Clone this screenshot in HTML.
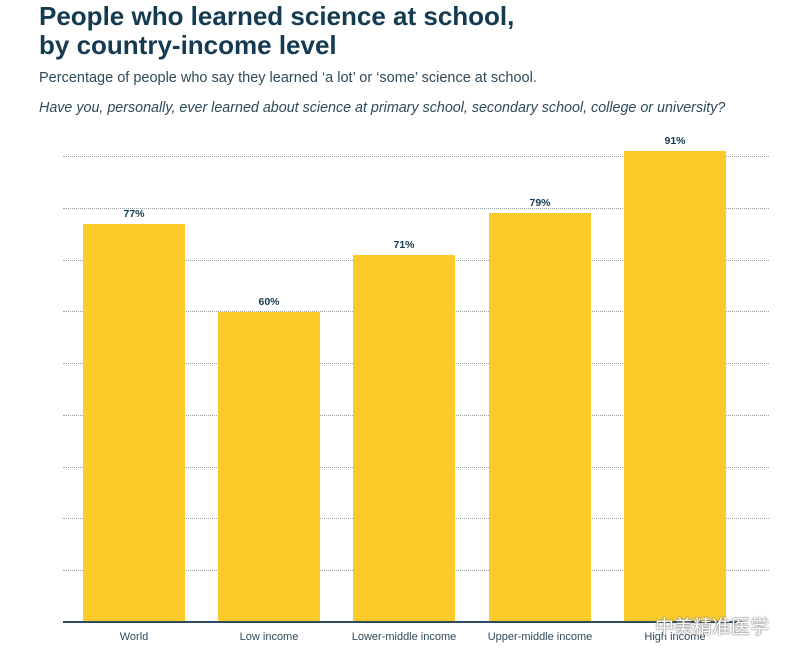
<!DOCTYPE html>
<html><head><meta charset="utf-8"><style>
body{margin:0;width:796px;height:661px;background:#fff;overflow:hidden;position:relative;font-family:"Liberation Sans",sans-serif}
.t{position:absolute;left:39px;top:2px;font-size:26px;font-weight:bold;color:#153b52;line-height:29px;letter-spacing:0px}
.s{position:absolute;left:39px;top:70px;font-size:14.5px;color:#2f4a5a}
.q{position:absolute;left:39px;top:100px;font-size:14.3px;color:#2f4a5a;font-style:italic}
.g{position:absolute;left:63px;width:706px;border-top:1px dotted #9aa3a8;height:0}
.b{position:absolute;width:102px;background:#fccb2a;bottom:39px}
.v{position:absolute;width:102px;text-align:center;font-size:10.5px;font-weight:bold;color:#153b52}
.l{position:absolute;top:631px;width:140px;text-align:center;font-size:11px;color:#2f4a5a}
.w{position:absolute;left:655px;top:612px;font-size:19px;color:#fff;text-shadow:0 0 2px #777,0 0 1px #555;font-family:"Noto Sans CJK SC",sans-serif}
</style></head><body>
<div class="t">People who learned science at school,<br>by country-income level</div>
<div class="s">Percentage of people who say they learned ‘a lot’ or ‘some’ science at school.</div>
<div class="q">Have you, personally, ever learned about science at primary school, secondary school, college or university?</div>
<div class="g" style="top:156px"></div><div class="g" style="top:208px"></div><div class="g" style="top:260px"></div>
<div class="g" style="top:311px"></div><div class="g" style="top:363px"></div><div class="g" style="top:415px"></div>
<div class="g" style="top:467px"></div><div class="g" style="top:518px"></div><div class="g" style="top:570px"></div>
<div class="b" style="left:83px;top:224px"></div>
<div class="b" style="left:218px;top:312px"></div>
<div class="b" style="left:353px;top:255px"></div>
<div class="b" style="left:489px;top:213px"></div>
<div class="b" style="left:624px;top:151px"></div>
<div style="position:absolute;left:63px;top:621px;width:680px;height:2px;background:#2f4a5a"></div>
<div class="v" style="left:83px;top:208px">77%</div>
<div class="v" style="left:218px;top:296px">60%</div>
<div class="v" style="left:353px;top:239px">71%</div>
<div class="v" style="left:489px;top:197px">79%</div>
<div class="v" style="left:624px;top:135px">91%</div>
<div class="l" style="left:64px">World</div>
<div class="l" style="left:199px">Low income</div>
<div class="l" style="left:334px">Lower-middle income</div>
<div class="l" style="left:470px">Upper-middle income</div>
<div class="l" style="left:605px">High income</div>
<div class="w">中美精准医学</div>
</body></html>
